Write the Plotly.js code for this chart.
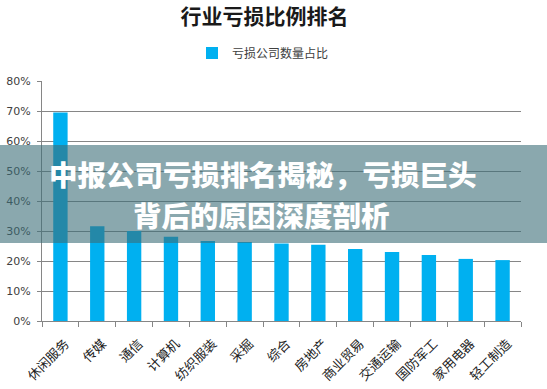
<!DOCTYPE html>
<html>
<head>
<meta charset="utf-8">
<script src="https://cdn.plot.ly/plotly-3.0.1.min.js"></script>
<style>html,body{margin:0;padding:0;background:#fff;}#chart{width:547px;height:389px;}</style>
</head>
<body>
<div id="chart"></div>
<script>
const categories = ["休闲服务","传媒","通信","计算机","纺织服装","采掘","综合","房地产","商业贸易","交通运输","国防军工","家用电器","轻工制造"];
const lossRatio = [0.695, 0.316, 0.300, 0.281, 0.267, 0.263, 0.258, 0.254, 0.240, 0.230, 0.220, 0.207, 0.203];
const seriesName = "亏损公司数量占比";
const chartTitle = "行业亏损比例排名";
const bannerLines = ["中报公司亏损排名揭秘，亏损巨头", "背后的原因深度剖析"];
const yTickVals = [0, 0.1, 0.2, 0.3, 0.4, 0.5, 0.6, 0.7, 0.8];
const yTickText = ["0%","10%","20%","30%","40%","50%","60%","70%","80%"];

const W = 547, H = 389;
const trace = {
  type: 'bar', x: categories, y: lossRatio, name: seriesName,
  marker: {color: '#00b0f0'}, showlegend: true, hoverinfo: 'none'
};
const layout = {
  width: W, height: H,
  margin: {l: 42, r: 26, t: 81, b: 68, pad: 0},
  paper_bgcolor: '#ffffff', plot_bgcolor: '#ffffff',
  bargap: 0.61,
  title: {text: chartTitle, xref: 'container', x: 264.5/W, xanchor: 'center',
          yref: 'container', y: 1 - 17/H, yanchor: 'middle',
          font: {family: 'Noto Sans CJK SC', size: 21, color: '#1a1a1a', weight: 'bold'}},
  showlegend: true,
  legend: {orientation: 'h', xref: 'paper', x: (192-42)/479, xanchor: 'left',
           yref: 'paper', y: 1 + (81-53)/240, yanchor: 'middle',
           font: {family: 'Noto Sans CJK SC', size: 12, color: '#404040'},
           itemwidth: 30, bgcolor: 'rgba(0,0,0,0)'},
  xaxis: {type: 'category', showline: true, linecolor: '#868686', linewidth: 1,
          ticks: 'outside', tickson: 'boundaries', ticklen: 5, tickcolor: '#868686',
          tickangle: -45, ticklabelstandoff: 9, ticklabelshift: 5,
          tickfont: {family: 'Noto Sans CJK SC', size: 13, color: '#222'},
          showgrid: false, fixedrange: true},
  yaxis: {range: [0, 0.8], tickvals: yTickVals, ticktext: yTickText,
          showline: true, linecolor: '#868686', linewidth: 1,
          ticks: 'outside', ticklen: 4, tickcolor: '#868686', ticklabelstandoff: 4,
          showgrid: true, gridcolor: '#868686', gridwidth: 1, zeroline: false,
          tickfont: {family: 'DejaVu Sans', size: 11, color: '#404040'}, fixedrange: true},
  shapes: [{type: 'rect', xref: 'paper', yref: 'paper', layer: 'above',
            x0: -42/479, x1: (W-42)/479, y0: (321-243)/240, y1: (321-145)/240,
            fillcolor: 'rgba(60,110,120,0.6)', line: {width: 0}}],
  annotations: [
    {text: bannerLines[0], xref: 'paper', yref: 'paper', showarrow: false,
     x: (263-42)/479, y: (321-173)/240, xanchor: 'center', yanchor: 'middle',
     font: {family: 'Noto Sans CJK SC', size: 28.5, color: '#ffffff', weight: 900}},
    {text: bannerLines[1], xref: 'paper', yref: 'paper', showarrow: false,
     x: (261-42)/479, y: (321-214)/240, xanchor: 'center', yanchor: 'middle',
     font: {family: 'Noto Sans CJK SC', size: 28.5, color: '#ffffff', weight: 900}}
  ]
};
Plotly.newPlot('chart', [trace], layout, {displayModeBar: false, staticPlot: true});
</script>
</body>
</html>
